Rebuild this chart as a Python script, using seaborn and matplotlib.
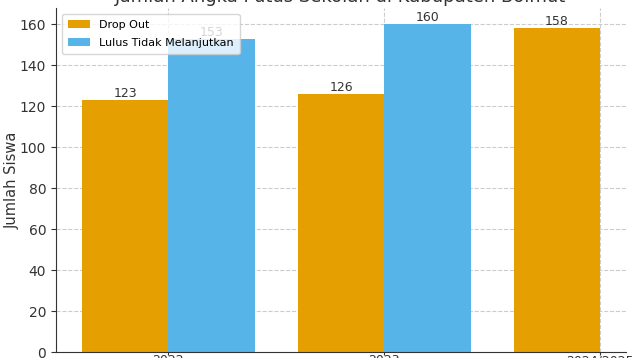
import matplotlib
matplotlib.use("Agg")
import matplotlib.pyplot as plt
import numpy as np
import pandas as pd
import seaborn as sns

# data
tahun = ["2022", "2023", "2024/2025"]
drop_out = [123, 126, 158]
lulus_tidak_lanjut = [153, 160, np.nan]

df = pd.DataFrame({
    "Tahun": tahun * 2,
    "Kategori": ["Drop Out"] * 3 + ["Lulus Tidak Melanjutkan"] * 3,
    "Jumlah": drop_out + lulus_tidak_lanjut,
})

fig = plt.figure(figsize=(6.4, 3.58), dpi=100)
ax = fig.add_axes([56 / 640, 6 / 358, 570 / 640, 344 / 358])

sns.barplot(data=df, x="Tahun", y="Jumlah", hue="Kategori",
            palette=["#E69F00", "#56B4E9"], saturation=1, linewidth=0,
            width=0.8, ax=ax, zorder=2)

for cont in ax.containers:
    ax.bar_label(cont, fmt="%.0f", padding=0, fontsize=9, color="#333333")

ax.set_xlim(-0.52, 2.12)
ax.set_ylim(0, 168)
ax.set_yticks(range(0, 161, 20))
ax.grid(True, linestyle="--", color="#cccccc", linewidth=0.8, zorder=0)
ax.set_axisbelow(True)
sns.despine(ax=ax)
ax.spines["left"].set_color("#333333")
ax.spines["bottom"].set_color("#333333")

ax.set_title("Jumlah Angka Putus Sekolah di Kabupaten Bolmut", fontsize=13,
             color="#333333", pad=4)
ax.set_xlabel("")
ax.set_ylabel("Jumlah Siswa", fontsize=10.5, color="#333333", labelpad=0)
ax.tick_params(axis="y", labelsize=10, colors="#333333")
ax.tick_params(axis="x", labelsize=9, colors="#333333", length=2.5, pad=-1)

ax.legend(loc="upper left", title=None, fontsize=8, framealpha=0.8,
          labelspacing=0.75, borderpad=0.55)

fig.savefig("out.png", dpi=100)
